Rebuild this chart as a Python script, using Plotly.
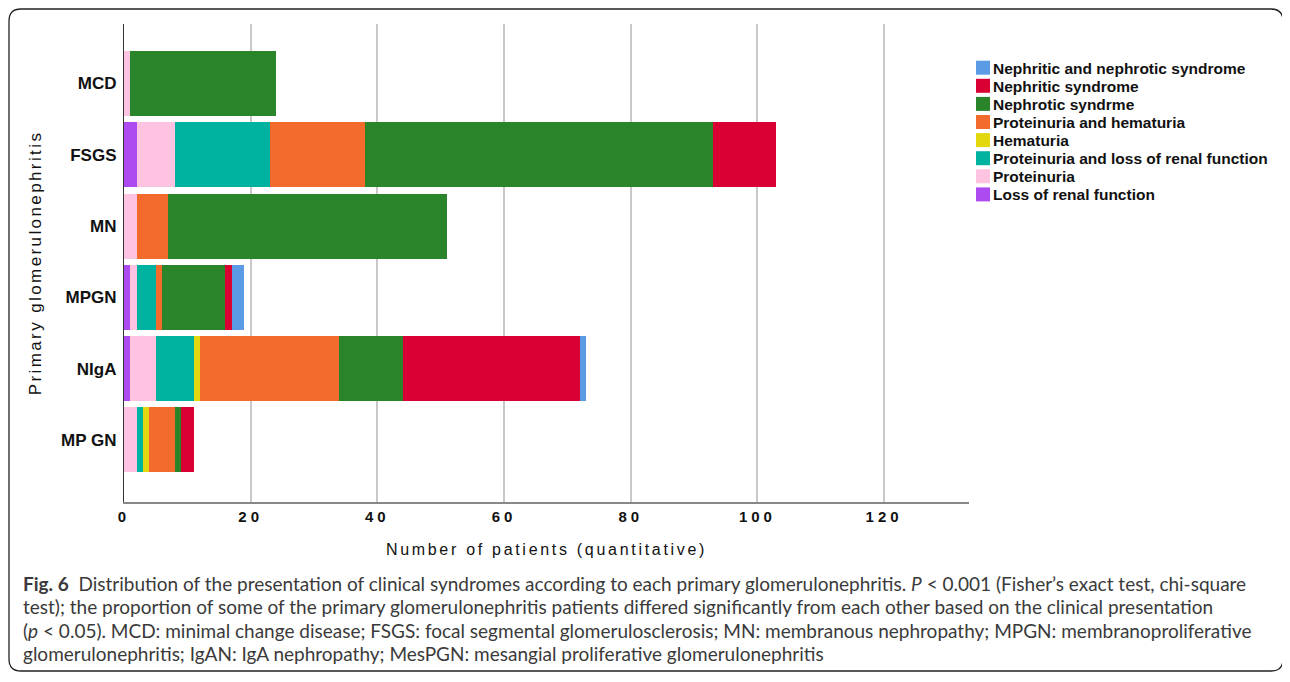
import plotly.graph_objs as go

# primary glomerulonephritis groups (top to bottom)
groups = ["MCD", "FSGS", "MN", "MPGN", "NIgA", "MP GN"]

# patients per clinical presentation, in stacking order (left to right)
loss_renal = [0, 2, 0, 1, 1, 0]
proteinuria = [1, 6, 2, 1, 4, 2]
prot_loss = [0, 15, 0, 3, 6, 1]
hematuria = [0, 0, 0, 0, 1, 1]
prot_hem = [0, 15, 5, 1, 22, 4]
nephrotic = [23, 55, 44, 10, 10, 1]
nephritic = [0, 10, 0, 1, 28, 2]
nephritic_nephrotic = [0, 0, 0, 2, 1, 0]

series = [
    ("Loss of renal function", loss_renal, "#AD4AF0"),
    ("Proteinuria", proteinuria, "#FEC3E0"),
    ("Proteinuria and loss of renal function", prot_loss, "#00B3A0"),
    ("Hematuria", hematuria, "#E3D70E"),
    ("Proteinuria and hematuria", prot_hem, "#F26A2C"),
    ("Nephrotic syndrme", nephrotic, "#2A852A"),
    ("Nephritic syndrome", nephritic, "#D90034"),
    ("Nephritic and nephrotic syndrome", nephritic_nephrotic, "#5B9BE6"),
]

x_ticks = [0, 20, 40, 60, 80, 100, 120]

caption = [
    "<b>Fig. 6</b>  Distribution of the presentation of clinical syndromes according to each primary glomerulonephritis. "
    "<i>P</i> < 0.001 (Fisher\u2019s exact test, chi-square",
    "test); the proportion of some of the primary glomerulonephritis patients differed significantly from each other based on the clinical presentation",
    "(<i>p</i> < 0.05). MCD: minimal change disease; FSGS: focal segmental glomerulosclerosis; MN: membranous nephropathy; MPGN: membranoproliferative",
    "glomerulonephritis; IgAN: IgA nephropathy; MesPGN: mesangial proliferative glomerulonephritis",
]

fig = go.Figure()
for name, vals, col in series:
    fig.add_trace(go.Bar(y=groups, x=vals, name=name, orientation="h", showlegend=False,
                         marker=dict(color=col, line=dict(width=0))))

# page has an 8px body margin, so work in page pixels and shift
OFF = 8
W, H = 1282, 666
L, T = 124 - OFF, 24 - OFF
R, B = W - (969 - OFF), H - (502 - OFF)
pw, ph = W - L - R, H - T - B


def px(x):
    return (x - OFF - L) / pw


def py(y):
    return (H - B - (y - OFF)) / ph


# rounded frame around the figure
x0, x1, y0, y1, r = 9, 1283, 9, 671, 12
frame = (f"M{px(x0 + r)},{py(y0)} L{px(x1 - r)},{py(y0)} Q{px(x1)},{py(y0)} {px(x1)},{py(y0 + r)} "
         f"L{px(x1)},{py(y1 - r)} Q{px(x1)},{py(y1)} {px(x1 - r)},{py(y1)} "
         f"L{px(x0 + r)},{py(y1)} Q{px(x0)},{py(y1)} {px(x0)},{py(y1 - r)} "
         f"L{px(x0)},{py(y0 + r)} Q{px(x0)},{py(y0)} {px(x0 + r)},{py(y0)} Z")
shapes = [dict(type="path", xref="paper", yref="paper", path=frame,
               line=dict(color="#222", width=1.3))]

# legend drawn by hand so the rows can be as tight as in the original
annotations = []
for i, (name, vals, col) in enumerate(reversed(series)):
    cy = 67.7 + 18.1 * i
    shapes.append(dict(type="rect", xref="paper", yref="paper",
                       x0=px(976), x1=px(990), y0=py(cy - 7), y1=py(cy + 7),
                       fillcolor=col, line=dict(width=0)))
    annotations.append(dict(text=name, xref="paper", yref="paper", x=px(990.5), y=py(cy + 0.5),
                            xanchor="left", yanchor="middle", showarrow=False,
                            font=dict(size=15.5, weight="bold", color="#111")))

for i, line in enumerate(caption):
    annotations.append(dict(text=line, xref="paper", yref="paper", x=px(21), y=py(583 + 23.5 * i),
                            xanchor="left", yanchor="middle", showarrow=False, align="left",
                            font=dict(family="Lato", size=19, color="#3a3a3a")))

fig.update_layout(
    width=W, height=H,
    margin=dict(l=L, r=R, t=T, b=B, autoexpand=False),
    barmode="stack", bargap=0.088,
    plot_bgcolor="white", paper_bgcolor="white",
    font=dict(family="Liberation Sans, Arial", color="#111"),
    showlegend=False,
    xaxis=dict(range=[0, 133.4], tickvals=x_ticks,
               ticktext=[f'<span style="letter-spacing:4px">{v}</span>' for v in x_ticks],
               tickfont=dict(size=15, weight="bold", color="#111"),
               showgrid=True, gridcolor="#c8c8c8", gridwidth=1.5,
               showline=True, linecolor="#888", linewidth=1.5,
               zeroline=False, ticks="", ticklen=0,
               title=dict(text='<span style="letter-spacing:2.7px">Number of patients (quantitative)</span>',
                          font=dict(size=16, color="#111"), standoff=20)),
    yaxis=dict(range=[5.87, -0.834], showline=True, linecolor="#333", linewidth=1.2,
               showgrid=False, ticks="", ticklabelstandoff=3,
               tickfont=dict(size=17, weight="bold", color="#111"),
               title=dict(text='<span style="letter-spacing:2.4px">Primary glomerulonephritis</span>',
                          font=dict(size=17, color="#111"), standoff=15)),
    shapes=shapes,
    annotations=annotations,
)

fig.write_html("out.html")
